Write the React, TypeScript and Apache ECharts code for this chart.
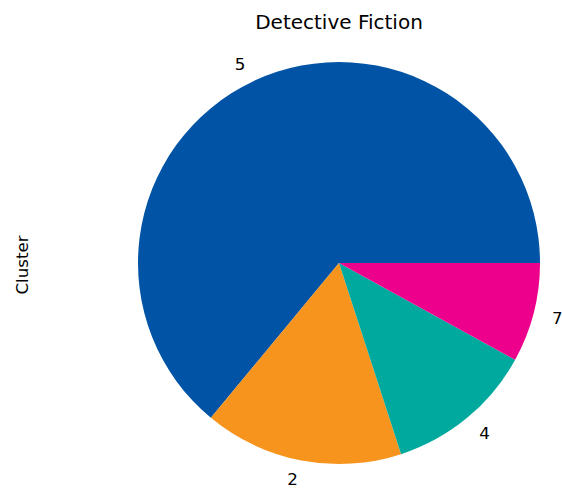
import React, { useEffect, useRef } from "react";
import * as echarts from "echarts";

const categories = ["5", "2", "4", "7"];
const counts = [16, 4, 3, 2];
const colors = ["#0053A5", "#F7941D", "#00A99D", "#EC008C"];
const chartTitle = "Detective Fiction";
const yLabel = "Cluster";

export default function App() {
  const ref = useRef<HTMLDivElement>(null);
  useEffect(() => {
    if (!ref.current) return;
    const chart = echarts.init(ref.current, null, { renderer: "svg" });
    const font = "DejaVu Sans";
    chart.setOption({
      animation: false,
      backgroundColor: "#ffffff",
      graphic: [
        {
          type: "text",
          x: 339,
          y: 22,
          style: {
            text: chartTitle,
            font: `20px "${font}"`,
            fill: "#000000",
            align: "center",
            verticalAlign: "middle",
          },
        },
        {
          type: "text",
          x: 22,
          y: 265,
          rotation: Math.PI / 2,
          style: {
            text: yLabel,
            font: `16.7px "${font}"`,
            fill: "#000000",
            align: "center",
            verticalAlign: "middle",
          },
        },
      ],
      series: [
        {
          type: "pie",
          center: [339, 263],
          radius: [0, 201],
          startAngle: 0,
          clockwise: false,
          avoidLabelOverlap: false,
          data: categories.map((c, i) => ({
            name: c,
            value: counts[i],
            itemStyle: { color: colors[i] },
          })),
          itemStyle: { borderWidth: 0 },
          emphasis: { disabled: true },
          label: {
            show: true,
            position: "outside",
            formatter: "{b}",
            fontFamily: font,
            fontSize: 16.7,
            color: "#000000",
            distanceToLabelLine: 0,
          },
          labelLine: { show: false, length: 19, length2: 0 },
        },
      ],
    });
    return () => chart.dispose();
  }, []);
  return (
    <div
      ref={ref}
      style={{ position: "absolute", left: 0, top: 0, width: 562, height: 492 }}
    />
  );
}
